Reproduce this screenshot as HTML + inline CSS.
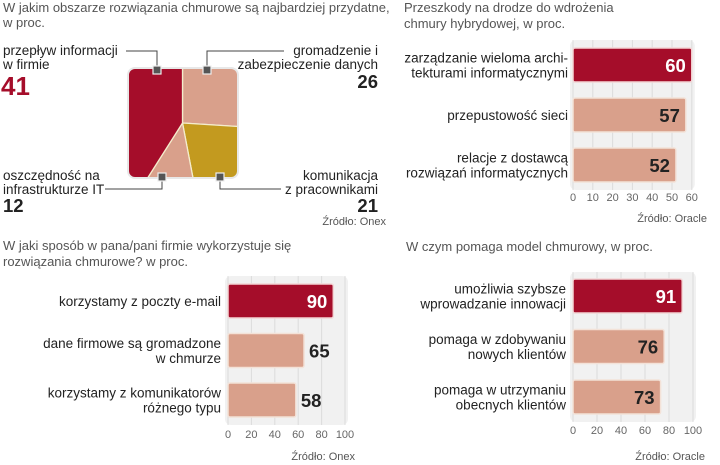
<!DOCTYPE html>
<html><head><meta charset="utf-8"><style>
html,body{margin:0;padding:0;background:#fff}
svg{display:block;font-family:"Liberation Sans",sans-serif}
.t{font-size:13px;fill:#555;font-weight:300}
.l{font-size:13.5px;fill:#222}
.n{font-size:18.5px;font-weight:bold;fill:#222}
.s{font-size:11px;fill:#555}
.k{font-size:11px;fill:#666}
</style></head><body>
<svg id="svg" width="720" height="465" viewBox="0 0 720 465">
<defs><clipPath id="sq"><rect x="128" y="68" width="110" height="110" rx="7"/></clipPath></defs>
<text class="t" x="3" y="12">W jakim obszarze rozwiązania chmurowe są najbardziej przydatne,</text>
<text class="t" x="3" y="27">w proc.</text>
<text class="t" x="404" y="12">Przeszkody na drodze do wdrożenia</text>
<text class="t" x="404" y="28">chmury hybrydowej, w proc.</text>
<text class="t" x="3" y="250">W jaki sposób w pana/pani firmie wykorzystuje się</text>
<text class="t" x="3" y="266">rozwiązania chmurowe? w proc.</text>
<text class="t" x="406" y="251">W czym pomaga model chmurowy, w proc.</text>
<g id="pie"></g>
<g fill="none" stroke="#444" stroke-width="1">
<polyline points="126,51 157,51 157,68"/><polyline points="284,51 207,51 207,68"/>
<polyline points="105,189 162,189 162,178"/><polyline points="281,189 220,189 220,178"/>
</g>
<g fill="#555" stroke="#eee" stroke-width="1.2">
<rect x="153" y="66" width="8" height="8"/><rect x="203" y="66" width="8" height="8"/>
<rect x="158" y="173" width="8" height="8"/><rect x="216" y="173" width="8" height="8"/>
</g>
<text class="l" x="3" y="55">przepływ informacji</text>
<text class="l" x="3" y="69">w firmie</text>
<text x="1" y="95" font-size="26" font-weight="bold" fill="#a50d2a">41</text>
<text class="l" x="378" y="55" text-anchor="end">gromadzenie i</text>
<text class="l" x="378" y="69" text-anchor="end">zabezpieczenie danych</text>
<text class="n" x="378" y="88" text-anchor="end">26</text>
<text class="l" x="3" y="180">oszczędność na</text>
<text class="l" x="3" y="194">infrastrukturze IT</text>
<text class="n" x="3" y="212">12</text>
<text class="l" x="378" y="180" text-anchor="end">komunikacja</text>
<text class="l" x="378" y="194" text-anchor="end">z pracownikami</text>
<text class="n" x="378" y="212" text-anchor="end">21</text>
<text class="s" x="386" y="225" text-anchor="end">Źródło: Onex</text>
<text class="s" x="707" y="222" text-anchor="end">Źródło: Oracle</text>
<text class="s" x="355" y="460" text-anchor="end">Źródło: Onex</text>
<text class="s" x="705" y="460" text-anchor="end">Źródło: Oracle</text>
</svg>
<script>
const pieValues=[26,21,12,41];
const pieColors=['#d9a08b','#c39a1f','#d9a08b','#a50d2a'];
const b1Cats=[['zarządzanie wieloma archi-','tekturami informatycznymi'],['przepustowość sieci'],['relacje z dostawcą','rozwiązań informatycznych']];
const b1Vals=[60,57,52];
const b1Ticks=[0,10,20,30,40,50,60];
const b2Cats=[['korzystamy z poczty e-mail'],['dane firmowe są gromadzone','w chmurze'],['korzystamy z komunikatorów','różnego typu']];
const b2Vals=[90,65,58];
const b2Ticks=[0,20,40,60,80,100];
const b3Cats=[['umożliwia szybsze','wprowadzanie innowacji'],['pomaga w zdobywaniu','nowych klientów'],['pomaga w utrzymaniu','obecnych klientów']];
const b3Vals=[91,76,73];
const b3Ticks=[0,20,40,60,80,100];
const NS='http://www.w3.org/2000/svg';
const svg=document.getElementById('svg');
function mk(tag,attrs,parent){const e=document.createElementNS(NS,tag);for(const k in attrs)e.setAttribute(k,attrs[k]);(parent||svg).appendChild(e);return e;}
const pie=document.getElementById('pie');
const g=mk('g',{'clip-path':'url(#sq)'},pie);
const cx=182.5,cy=123,R=120;
let acc=0;const total=pieValues.reduce((a,b)=>a+b,0);
pieValues.forEach((v,i)=>{
 const a0=acc/total*2*Math.PI;acc+=v;const a1=acc/total*2*Math.PI;
 const p=(a)=>[cx+R*Math.sin(a),cy-R*Math.cos(a)];
 const [x0,y0]=p(a0),[x1,y1]=p(a1);
 const s=mk('path',{d:`M${cx},${cy}L${x0},${y0}A${R},${R} 0 ${a1-a0>Math.PI?1:0} 1 ${x1},${y1}Z`,fill:pieColors[i],stroke:'#f4eccc','stroke-width':1.3},g);
 
 
});
mk('rect',{x:128,y:68,width:110,height:110,rx:7,fill:'none',stroke:'#e8e8e8','stroke-width':2},pie);
function bars(o){
 const x=v=>o.x0+v*o.sc;
 const maxT=o.ticks[o.ticks.length-1];
 const bg=mk('rect',{x:o.x0-3,y:o.gy0,width:x(maxT)-o.x0+6,height:o.gy1-o.gy0,rx:6,fill:'#f1f1f1'});
 
 
 o.ticks.forEach(t=>{
  const ln=mk('line',{x1:x(t),x2:x(t),y1:o.gy0,y2:o.gy1,stroke:'#dcdcdc','stroke-width':1});
  
  
  const tx=mk('text',{x:x(t),y:o.ty,'text-anchor':'middle',class:'k'});tx.textContent=t;
  
  
 });
 o.vals.forEach((v,i)=>{
  const y=o.by0+i*o.step;
  const r=mk('rect',{x:o.x0,y:y,width:x(v)-o.x0,height:o.bh,rx:2,fill:i==0?'#a50d2a':'#d9a08b',stroke:i==0?'#f3d5d5':'#f3e2d8','stroke-width':1.5});
  
  
  const inside=o.inside[i];
  const t=mk('text',{x:inside?x(v)-6:x(v)+5,y:y+o.bh/2+7,'text-anchor':inside?'end':'start',class:'n'});
  t.style.fill=i==0?'#fff':'#222';
  t.textContent=v;
  
  
  const lines=o.cats[i];const mid=y+o.bh/2+5;
  lines.forEach((s,j)=>{
   const lt=mk('text',{x:o.lx,y:mid+(j-(lines.length-1)/2)*15,'text-anchor':'end',class:'l'});lt.textContent=s;
   
   
  });
 });
}
bars({name:'barriers',cats:b1Cats,vals:b1Vals,ticks:b1Ticks,x0:573,sc:1.98,gy0:40,gy1:190,ty:201,by0:48,step:50,bh:34,lx:568,inside:[true,true,true]});
bars({name:'usage',cats:b2Cats,vals:b2Vals,ticks:b2Ticks,x0:228,sc:1.17,gy0:276,gy1:425,ty:438,by0:284,step:49.5,bh:34,lx:221,inside:[true,false,false]});
bars({name:'help',cats:b3Cats,vals:b3Vals,ticks:b3Ticks,x0:573,sc:1.2,gy0:272,gy1:422,ty:434,by0:279,step:50.5,bh:34,lx:566,inside:[true,true,true]});
</script>
</body></html>
